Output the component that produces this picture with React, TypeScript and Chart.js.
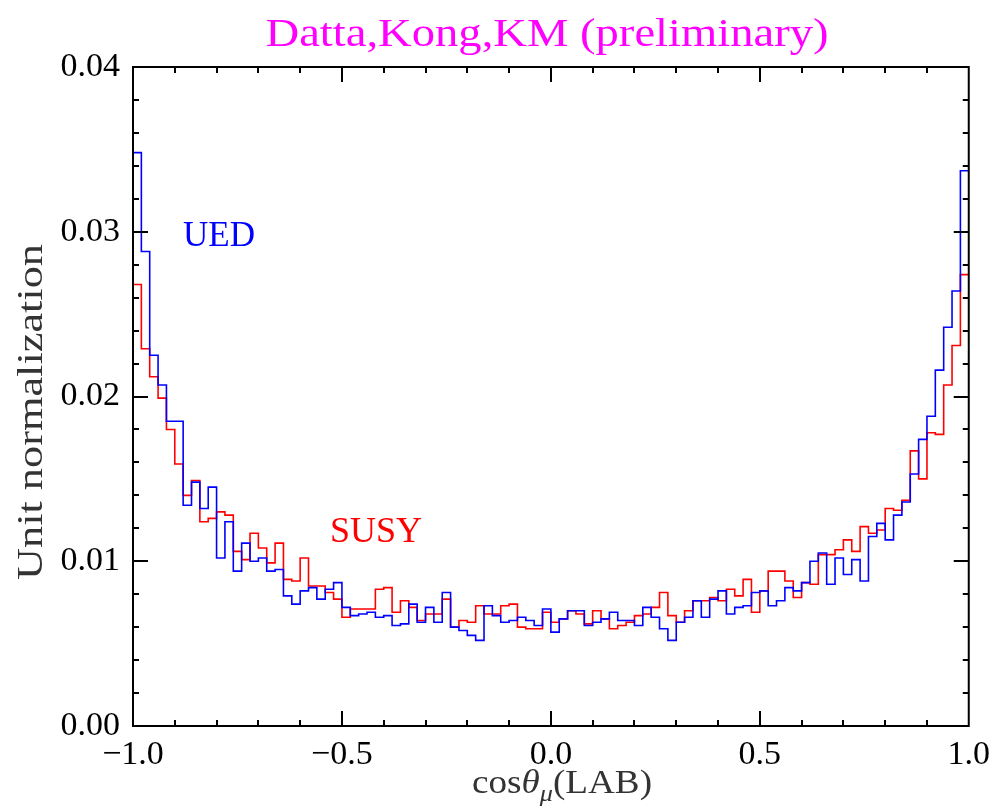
import { useEffect, useRef } from "react";
import { Chart, registerables } from "chart.js";

Chart.register(...registerables);

// Histogram range: 100 equal bins over cos(theta) in [-1, 1]
const X_MIN = -1.0;
const X_MAX = 1.0;

// Unit-normalized bin contents, UED sample
const uedValues = [
  0.0348, 0.0288, 0.0225, 0.0207, 0.0185, 0.0185, 0.0134, 0.0148, 0.0132, 0.0145,
  0.0102, 0.0124, 0.0094, 0.0111, 0.0100, 0.0102, 0.0094, 0.0095, 0.0079, 0.0074,
  0.0082, 0.0084, 0.0077, 0.0083, 0.0087, 0.0072, 0.0067, 0.0068, 0.0069, 0.0066,
  0.0067, 0.0061, 0.0062, 0.0074, 0.0063, 0.0072, 0.0063, 0.0081, 0.0060, 0.0058,
  0.0055, 0.0052, 0.0073, 0.0067, 0.0063, 0.0064, 0.0066, 0.0064, 0.0061, 0.0071,
  0.0057, 0.0065, 0.0070, 0.0070, 0.0061, 0.0063, 0.0065, 0.0069, 0.0064, 0.0064,
  0.0061, 0.0072, 0.0066, 0.0059, 0.0052, 0.0063, 0.0066, 0.0076, 0.0066, 0.0077,
  0.0082, 0.0068, 0.0072, 0.0073, 0.0081, 0.0082, 0.0073, 0.0076, 0.0084, 0.0082,
  0.0087, 0.0100, 0.0105, 0.0086, 0.0102, 0.0092, 0.0101, 0.0088, 0.0115, 0.0123,
  0.0113, 0.0128, 0.0136, 0.0153, 0.0174, 0.0188, 0.0216, 0.0242, 0.0264, 0.0337,
];

// Unit-normalized bin contents, SUSY sample
const susyValues = [
  0.0268, 0.0229, 0.0212, 0.0199, 0.0180, 0.0159, 0.0140, 0.0149, 0.0124, 0.0126,
  0.0130, 0.0128, 0.0106, 0.0101, 0.0117, 0.0108, 0.0099, 0.0111, 0.0089, 0.0088,
  0.0102, 0.0085, 0.0085, 0.0081, 0.0077, 0.0066, 0.0071, 0.0071, 0.0071, 0.0083,
  0.0084, 0.0069, 0.0076, 0.0072, 0.0064, 0.0068, 0.0068, 0.0077, 0.0060, 0.0064,
  0.0063, 0.0073, 0.0068, 0.0068, 0.0073, 0.0074, 0.0060, 0.0059, 0.0059, 0.0069,
  0.0063, 0.0065, 0.0070, 0.0068, 0.0062, 0.0070, 0.0065, 0.0059, 0.0061, 0.0063,
  0.0067, 0.0068, 0.0072, 0.0081, 0.0067, 0.0063, 0.0070, 0.0076, 0.0076, 0.0078,
  0.0076, 0.0083, 0.0079, 0.0089, 0.0069, 0.0082, 0.0094, 0.0094, 0.0088, 0.0078,
  0.0087, 0.0086, 0.0104, 0.0104, 0.0107, 0.0113, 0.0106, 0.0121, 0.0117, 0.0119,
  0.0132, 0.0131, 0.0137, 0.0167, 0.0150, 0.0178, 0.0177, 0.0207, 0.0231, 0.0274,
];

const Y_MIN = 0;
const Y_MAX = 0.04;
const X_MAJOR_STEP = 0.5;
const X_MINOR_STEP = 0.1;
const Y_MAJOR_STEP = 0.01;
const Y_MINOR_STEP = 0.002;

const TITLE = "Datta,Kong,KM (preliminary)";
const Y_TITLE = "Unit normalization";
const UED_LABEL = "UED";
const SUSY_LABEL = "SUSY";

const SERIF = '"Liberation Serif", "Times New Roman", serif';

// Left bin edges plus the closing edge, drawn as a step outline.
function stepPoints(values: number[]) {
  const w = (X_MAX - X_MIN) / values.length;
  const pts = values.map((v, i) => ({ x: X_MIN + i * w, y: v }));
  pts.push({ x: X_MAX, y: values[values.length - 1] });
  return pts;
}

function drawStretched(
  ctx: CanvasRenderingContext2D,
  text: string,
  cx: number,
  baseline: number,
  font: string,
  color: string,
  width?: number
) {
  ctx.save();
  ctx.font = font;
  ctx.fillStyle = color;
  ctx.textAlign = "center";
  ctx.textBaseline = "alphabetic";
  const m = ctx.measureText(text).width;
  const sx = width ? width / m : 1;
  ctx.translate(cx, baseline);
  ctx.scale(sx, 1);
  ctx.fillText(text, 0, 0);
  ctx.restore();
}

const decorations = {
  id: "decorations",
  afterDatasetsDraw(chart: any) {
    const { ctx, chartArea: a, scales } = chart;
    const xs = scales.x;
    const ys = scales.y;
    ctx.save();
    ctx.strokeStyle = "#000";
    ctx.lineWidth = 2;
    ctx.lineCap = "butt";
    ctx.strokeRect(a.left, a.top, a.right - a.left, a.bottom - a.top);

    const seg = (x1: number, y1: number, x2: number, y2: number) => {
      ctx.beginPath();
      ctx.moveTo(x1, y1);
      ctx.lineTo(x2, y2);
      ctx.stroke();
    };

    // inward ticks on the bottom and top edges
    const nx = Math.round((X_MAX - X_MIN) / X_MINOR_STEP);
    const perMajorX = Math.round(X_MAJOR_STEP / X_MINOR_STEP);
    for (let k = 1; k < nx; k++) {
      const px = Math.round(xs.getPixelForValue(X_MIN + k * X_MINOR_STEP));
      const len = k % perMajorX === 0 ? 15 : 6;
      seg(px, a.bottom, px, a.bottom - len);
      seg(px, a.top, px, a.top + len);
    }
    // inward ticks on the left and right edges
    const ny = Math.round((Y_MAX - Y_MIN) / Y_MINOR_STEP);
    const perMajorY = Math.round(Y_MAJOR_STEP / Y_MINOR_STEP);
    for (let k = 1; k < ny; k++) {
      const py = Math.round(ys.getPixelForValue(Y_MIN + k * Y_MINOR_STEP));
      const len = k % perMajorY === 0 ? 15 : 6;
      seg(a.left, py, a.left + len, py);
      seg(a.right, py, a.right - len, py);
    }
    ctx.restore();

    // title
    drawStretched(ctx, TITLE, 547, 46, `40px ${SERIF}`, "#ff00ff", 563);

    // series labels
    drawStretched(ctx, UED_LABEL, 219, 246, `36px ${SERIF}`, "#0000ff", 72);
    drawStretched(ctx, SUSY_LABEL, 376, 542, `36px ${SERIF}`, "#ff0000", 92);

    // y axis title
    ctx.save();
    ctx.translate(42, 412);
    ctx.rotate(-Math.PI / 2);
    drawStretched(ctx, Y_TITLE, 0, 0, `36px ${SERIF}`, "#333333", 336);
    ctx.restore();

    // x axis title: cos θ_μ (LAB)
    ctx.save();
    ctx.fillStyle = "#333333";
    ctx.textBaseline = "alphabetic";
    ctx.textAlign = "left";
    const parts = [
      { t: "cos", f: `34px ${SERIF}`, dy: 0 },
      { t: "\u03b8", f: `italic 34px ${SERIF}`, dy: 0 },
      { t: "\u03bc", f: `italic 24px ${SERIF}`, dy: 8 },
      { t: "(LAB)", f: `34px ${SERIF}`, dy: 0 },
    ];
    let total = 0;
    const widths = parts.map((p) => {
      ctx.font = p.f;
      const w = ctx.measureText(p.t).width;
      total += w;
      return w;
    });
    const target = 180;
    const sx = target / total;
    ctx.translate(562 - target / 2, 793);
    ctx.scale(sx, 1);
    let cx = 0;
    parts.forEach((p, i) => {
      ctx.font = p.f;
      ctx.fillText(p.t, cx, p.dy);
      cx += widths[i];
    });
    ctx.restore();
  },
};

export default function App() {
  const canvasRef = useRef<HTMLCanvasElement | null>(null);

  useEffect(() => {
    const canvas = canvasRef.current;
    if (!canvas) return;
    const chart = new Chart(canvas, {
      type: "line",
      data: {
        datasets: [
          {
            label: UED_LABEL,
            data: stepPoints(uedValues),
            borderColor: "#0000ff",
            borderWidth: 1.6,
            stepped: "before",
            pointRadius: 0,
            fill: false,
          },
          {
            label: SUSY_LABEL,
            data: stepPoints(susyValues),
            borderColor: "#ff0000",
            borderWidth: 1.6,
            stepped: "before",
            pointRadius: 0,
            fill: false,
          },
        ],
      },
      options: {
        responsive: false,
        animation: false,
        events: [],
        layout: { padding: { left: 0, right: 27, top: 67, bottom: 0 } },
        plugins: {
          legend: { display: false },
          tooltip: { enabled: false },
          title: { display: false },
        },
        scales: {
          x: {
            type: "linear",
            min: X_MIN,
            max: X_MAX,
            grid: { display: false, drawTicks: false },
            border: { display: false },
            ticks: {
              stepSize: X_MAJOR_STEP,
              padding: 9,
              color: "#000",
              font: { family: SERIF, size: 34 },
              maxRotation: 0,
              callback: (v: any) =>
                (Number(v) < -1e-9 ? "\u2212" : "") + Math.abs(Number(v)).toFixed(1),
            },
            afterFit: (scale: any) => {
              scale.height = 84;
            },
          },
          y: {
            type: "linear",
            min: Y_MIN,
            max: Y_MAX,
            grid: { display: false, drawTicks: false },
            border: { display: false },
            ticks: {
              stepSize: Y_MAJOR_STEP,
              padding: 13,
              color: "#000",
              font: { family: SERIF, size: 34 },
              callback: (v: any) => Number(v).toFixed(2),
            },
            afterFit: (scale: any) => {
              scale.width = 133;
            },
          },
        },
      },
      plugins: [decorations],
    });
    return () => chart.destroy();
  }, []);

  return (
    <div style={{ position: "absolute", left: 0, top: 0, width: 999, height: 810, background: "#fff" }}>
      <canvas ref={canvasRef} width={999} height={810} style={{ display: "block" }} />
    </div>
  );
}
